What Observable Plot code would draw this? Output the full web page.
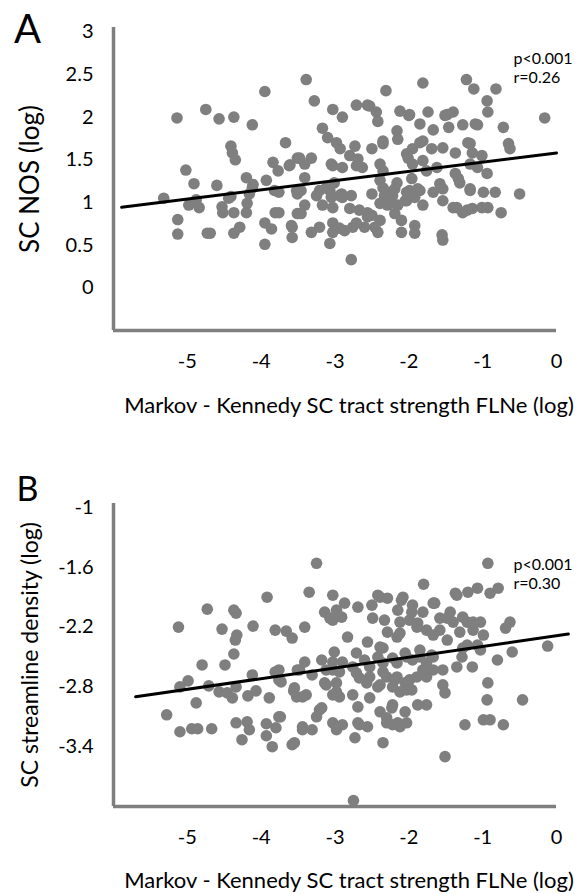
<!DOCTYPE html>
<html><head><meta charset="utf-8">
<script src="https://cdn.jsdelivr.net/npm/d3@7"></script>
<script src="https://cdn.jsdelivr.net/npm/@observablehq/plot@0.6"></script>
<style>
html,body{margin:0;padding:0;background:#fff;width:578px;height:894px;overflow:hidden;}
#chart svg{display:block;}
</style></head><body><div id="chart"></div>
<script>
const xTicks = [-5, -4, -3, -2, -1, 0];
const yTicksA = [0, 0.5, 1, 1.5, 2, 2.5, 3];
const yTicksB = [-1, -1.6, -2.2, -2.8, -3.4];
const xLabel = "Markov - Kennedy SC tract strength FLNe (log)";
const yLabelA = "SC NOS (log)";
const yLabelB = "SC streamline density (log)";
const statsA = ["p<0.001", "r=0.26"];
const statsB = ["p<0.001", "r=0.30"];
const fitA = {slope: 0.108, intercept: 1.58, from: -5.89, to: 0};
const fitB = {slope: 0.1075, intercept: -2.287, from: -5.70, to: 0.16};

const pointsA = [
[-5.14,1.99],[-4.75,2.09],[-4.57,1.98],[-4.37,2.00],[-4.12,1.91],[-3.95,2.30],[-3.67,1.70],[-4.41,1.66],[-4.39,1.58],[-4.35,1.50],
[-5.02,1.38],[-3.84,1.47],[-3.77,1.37],[-3.61,1.44],[-3.51,1.52],[-4.91,1.22],[-4.60,1.20],[-4.20,1.29],[-4.11,1.21],[-3.93,1.26],
[-3.82,1.14],[-3.52,1.14],[-5.32,1.05],[-4.88,1.03],[-4.41,1.07],[-4.16,1.10],[-4.98,0.97],[-4.84,0.94],[-5.13,0.80],[-5.13,0.63],
[-4.73,0.64],[-4.69,0.64],[-4.53,0.95],[-4.52,0.88],[-4.37,0.88],[-4.20,0.88],[-4.19,0.99],[-4.44,1.05],[-4.12,1.17],[-4.37,0.64],
[-4.29,0.71],[-3.95,0.76],[-3.86,0.69],[-3.95,0.51],[-3.81,0.88],[-3.58,0.71],[-3.58,0.59],[-3.51,1.10],[-3.51,0.87],
[-3.39,2.44],[-2.31,2.31],[-1.81,2.40],[-1.22,2.44],[-1.12,2.33],[-0.82,2.33],[-3.28,2.19],[-3.03,2.09],[-2.90,2.00],[-2.71,2.14],
[-2.56,2.14],[-2.44,2.06],[-2.42,1.95],[-2.12,2.07],[-2.00,2.02],[-1.85,1.92],[-1.74,2.06],[-1.51,2.02],[-1.40,2.06],[-1.46,1.88],
[-1.27,1.91],[-1.07,1.91],[-0.94,2.19],[-0.93,2.06],[-0.72,1.88],[-0.16,1.99],[-3.17,1.87],[-3.10,1.76],[-2.98,1.70],[-2.93,1.63],
[-2.73,1.66],[-2.50,1.63],[-2.35,1.69],[-2.16,1.84],[-2.15,1.74],[-1.67,1.85],[-1.85,1.70],[-1.95,1.63],[-1.69,1.63],[-1.54,1.64],
[-1.37,1.58],[-1.20,1.70],[-1.14,1.58],[-1.01,1.55],[-0.65,1.69],[-0.63,1.63],[-3.48,1.52],[-3.32,1.52],[-3.62,1.43],[-3.41,1.45],
[-3.05,1.45],[-2.80,1.55],[-2.71,1.43],[-2.63,1.41],[-2.39,1.45],[-2.35,1.37],[-2.01,1.52],[-1.81,1.49],[-1.76,1.37],[-1.62,1.41],
[-1.37,1.34],[-1.17,1.45],[-1.07,1.41],[-0.94,1.34],[-3.41,1.29],[-3.01,1.23],[-3.12,1.17],[-2.39,1.26],[-2.16,1.23],[-1.96,1.28],
[-1.58,1.22],[-1.31,1.23],[-1.17,1.14],[-0.99,1.12],[-0.83,1.12],[-0.50,1.10],[-3.76,1.12],[-3.46,1.14],[-3.21,1.14],[-2.91,1.10],
[-2.78,1.08],[-2.50,1.10],[-2.26,1.12],[-2.03,1.12],[-1.85,1.14],[-1.67,1.12],
[-3.25,1.08],[-3.07,1.14],[-2.94,1.08],[-2.35,1.17],[-2.22,1.08],[-1.88,1.16],[-1.54,1.16],[-1.54,1.02],[-1.81,0.97],[-2.03,1.02],
[-2.26,0.99],[-2.39,0.99],[-2.67,0.91],[-2.56,0.88],[-2.80,0.93],[-3.03,0.94],[-3.17,0.97],[-3.41,0.97],[-3.46,0.87],[-3.76,0.88],
[-1.40,0.94],[-1.27,0.88],[-1.14,0.93],[-1.01,0.94],[-0.93,0.94],[-0.75,0.88],[-3.59,0.73],[-3.32,0.65],[-3.21,0.71],[-3.03,0.76],
[-3.03,0.65],[-2.87,0.67],[-2.71,0.76],[-2.60,0.71],[-2.56,0.83],[-2.39,0.79],[-2.42,0.65],[-2.19,0.87],[-2.10,0.79],[-2.10,0.65],
[-1.92,0.73],[-1.92,0.64],[-3.07,0.52],[-2.78,0.33],[-1.55,0.62],[-1.54,0.56],
[-2.33,1.08],[-2.19,1.16],[-2.05,1.02],[-1.99,1.14],[-2.15,0.97],[-2.29,0.97],[-1.92,1.06],[-1.95,1.45],[-2.03,1.57],[-1.81,1.72],
[-2.35,1.72],[-2.69,1.51],[-3.03,1.43],[-2.90,1.41],[-3.05,1.06],[-2.90,1.06],[-2.50,0.85],[-2.46,0.71],[-2.76,0.71],[-2.94,0.70],
[-1.35,0.94],[-1.21,0.91],[-1.17,1.16],[-1.33,1.28],[-1.17,1.69],[-1.10,1.92],[-1.48,2.03],[-1.99,2.03],[-2.53,2.13]
];

const pointsB = [
[-3.25,-1.56],[-0.93,-1.56],[-1.80,-1.77],[-1.37,-1.86],[-1.20,-1.85],[-1.07,-1.81],[-0.90,-1.86],[-0.79,-1.81],[-3.35,-1.85],[-3.03,-1.88],
[-2.42,-1.88],[-2.29,-1.91],[-2.08,-1.90],[-2.39,-1.90],[-2.10,-1.93],[-1.67,-1.96],[-1.35,-1.88],[-3.92,-1.90],[-4.73,-2.02],[-4.37,-2.03],
[-4.34,-2.06],[-5.12,-2.20],[-4.53,-2.22],[-4.11,-2.19],[-3.81,-2.23],[-3.66,-2.24],[-3.58,-2.31],[-4.33,-2.28],[-4.35,-2.33],[-4.37,-2.47],
[-4.80,-2.58],[-4.49,-2.58],[-4.12,-2.68],[-3.81,-2.65],[-3.73,-2.75],[-3.51,-2.63],[-4.99,-2.74],[-5.10,-2.80],[-4.71,-2.79],[-4.57,-2.85],
[-4.46,-2.86],[-4.34,-2.80],[-4.39,-2.91],[-4.18,-2.89],[-4.07,-2.84],[-3.89,-2.91],[-3.56,-2.84],[-3.52,-2.90],[-4.88,-2.96],[-5.28,-3.08],
[-3.74,-3.10],[-4.34,-3.16],[-4.19,-3.15],[-4.16,-3.23],[-3.93,-3.17],[-3.80,-3.21],[-5.10,-3.25],[-4.94,-3.22],[-4.86,-3.22],[-4.67,-3.22],
[-3.93,-3.29],[-4.26,-3.33],[-3.85,-3.40],[-3.58,-3.38],
[-3.14,-2.05],[-2.98,-2.03],[-2.87,-1.96],[-2.69,-2.00],[-2.50,-1.98],[-3.07,-2.11],[-2.91,-2.10],[-2.15,-2.03],[-1.95,-1.98],[-1.81,-2.05],
[-1.65,-1.96],[-2.49,-2.11],[-2.33,-2.13],[-1.99,-2.13],[-1.58,-2.11],[-1.44,-2.05],[-1.40,-2.15],[-1.21,-2.15],[-1.03,-2.15],[-0.63,-2.15],
[-0.69,-2.21],[-3.41,-2.20],[-2.83,-2.30],[-2.29,-2.25],[-2.16,-2.30],[-1.88,-2.16],[-1.76,-2.23],[-1.58,-2.23],[-1.48,-2.33],[-1.31,-2.25],
[-1.13,-2.23],[-0.99,-2.28],[-1.07,-2.38],[-1.21,-2.38],[-1.03,-2.43],[-0.12,-2.39],[-0.60,-2.45],[-0.80,-2.53],[-1.28,-2.50],[-1.14,-2.60],
[-1.35,-2.60],[-1.54,-2.63],[-2.56,-2.35],[-2.35,-2.41],[-2.05,-2.46],[-1.85,-2.43],[-1.69,-2.48],[-1.95,-2.53],[-1.76,-2.56],[-1.67,-2.63],
[-1.89,-2.70],[-1.76,-2.70],[-3.01,-2.45],[-2.71,-2.46],[-3.41,-2.55],[-3.18,-2.53],[-2.90,-2.55],[-2.76,-2.60],[-2.53,-2.60],[-2.35,-2.56],
[-2.16,-2.56],[-3.76,-2.63],[-3.48,-2.63],[-3.31,-2.68],[-3.03,-2.63],[-2.67,-2.71],[-2.53,-2.70],[-2.30,-2.70],[-2.19,-2.73],[-2.05,-2.76],
[-3.76,-2.73],[-3.14,-2.76],[-2.98,-2.76],[-2.39,-2.78],[-2.12,-2.85],[-1.96,-2.83],[-1.54,-2.78],[-1.51,-2.86],[-0.93,-2.76],[-3.55,-2.81],
[-3.39,-2.88],[-3.03,-2.88],[-2.94,-2.90],[-2.76,-2.88],[-2.53,-2.91],[-0.94,-2.93],[-0.46,-2.93],[-1.88,-2.98],[-1.76,-2.98],[-3.18,-3.01],
[-2.69,-3.00],[-2.22,-2.98],[-2.39,-3.05],[-2.05,-3.05],[-3.76,-3.10],[-3.25,-3.10],[-3.03,-3.16],[-2.90,-3.18],[-2.69,-3.16],[-2.56,-3.20],
[-2.30,-3.11],[-2.22,-3.18],[-2.15,-3.16],[-3.44,-3.23],[-3.31,-3.23],[-1.24,-3.18],[-0.99,-3.13],[-0.90,-3.13],[-0.72,-3.18],[-3.55,-3.36],
[-2.73,-3.31],[-2.35,-3.36],[-1.51,-3.50],[-2.75,-3.94],[-2.98,-3.23],
[-3.03,-2.13],[-2.12,-2.15],[-1.96,-2.05],[-1.48,-2.11],[-1.27,-2.10],[-1.13,-2.15],[-2.12,-2.26],[-1.89,-2.20],[-1.67,-2.28],[-1.27,-2.41],
[-2.39,-2.40],[-3.03,-2.55],[-2.60,-2.53],[-2.42,-2.50],[-2.22,-2.51],[-2.03,-2.50],[-1.85,-2.50],[-1.67,-2.50],[-3.12,-2.63],[-2.94,-2.65],
[-2.71,-2.66],[-2.35,-2.65],[-2.16,-2.70],[-1.99,-2.73],[-1.81,-2.63],[-3.12,-2.78],[-2.98,-2.85],[-2.57,-2.76],[-2.42,-2.80],[-2.22,-2.80],
[-2.03,-2.83],[-3.44,-2.90],[-2.23,-3.01],[-3.21,-3.03],[-3.44,-3.20],[-2.67,-3.18],[-2.30,-3.16],[-2.12,-3.20],[-2.03,-3.16]
];

const gray = "#7f7f7f";
const font = "Lato, 'Open Sans', sans-serif";

function panel({points, fit, yDomain, yTicks, yLabel, yLabelSize, letter, letterSize, letterDy, stats, statsDy, height, marginTop, titleDy}) {
  const line = [fit.from, fit.to].map(x => ({x, y: fit.intercept + fit.slope * x}));
  return Plot.plot({
    width: 578, height,
    marginLeft: 113, marginRight: 22, marginTop,
    marginBottom: height - marginTop - 303,
    style: {fontFamily: font, color: "#000", background: "#fff", overflow: "visible"},
    x: {domain: [-6, 0]},
    y: {domain: yDomain},
    marks: [
      Plot.axisX(xTicks, {tickSize: 0, tickPadding: 23, fontSize: 20, tickFormat: d => String(d), label: null}),
      Plot.axisY(yTicks, {tickSize: 0, tickPadding: 20, fontSize: 20, tickFormat: d => String(d), label: null}),
      Plot.dot(points, {x: d => d[0], y: d => d[1], r: 5.8, fill: gray, stroke: "none"}),
      Plot.ruleX([-6], {stroke: gray, strokeWidth: 3.5}),
      Plot.ruleY([yDomain[0]], {stroke: gray, strokeWidth: 3.5}),
      Plot.line(line, {x: "x", y: "y", stroke: "#000", strokeWidth: 3}),
      Plot.text([stats.join("\n")], {text: d => d, frameAnchor: "top-right", textAnchor: "start", lineAnchor: "top", dx: -43, dy: statsDy, fontSize: 16, lineHeight: 1.2}),
      Plot.text([letter], {text: d => d, frameAnchor: "top-left", textAnchor: "middle", lineAnchor: "middle", dx: -86, dy: letterDy, fontSize: letterSize}),
      Plot.text([yLabel], {text: d => d, frameAnchor: "left", textAnchor: "middle", lineAnchor: "middle", rotate: -90, dx: -83, fontSize: yLabelSize}),
      Plot.text([xLabel], {text: d => d, frameAnchor: "bottom", textAnchor: "middle", lineAnchor: "middle", dy: titleDy, dx: 14, fontSize: 22})
    ]
  });
}

const chart = document.getElementById("chart");
chart.append(panel({
  points: pointsA, fit: fitA, yDomain: [-0.5, 3.05], yTicks: yTicksA, yLabel: yLabelA, yLabelSize: 26,
  letter: "A", letterSize: 40, letterDy: 3, stats: statsA, statsDy: 23, height: 440, marginTop: 27, titleDy: 75
}));
chart.append(panel({
  points: pointsB, fit: fitB, yDomain: [-4, -0.96], yTicks: yTicksB, yLabel: yLabelB, yLabelSize: 23,
  letter: "B", letterSize: 34, letterDy: -13, stats: statsB, statsDy: 53, height: 454, marginTop: 63, titleDy: 74
}));
</script></body></html>
